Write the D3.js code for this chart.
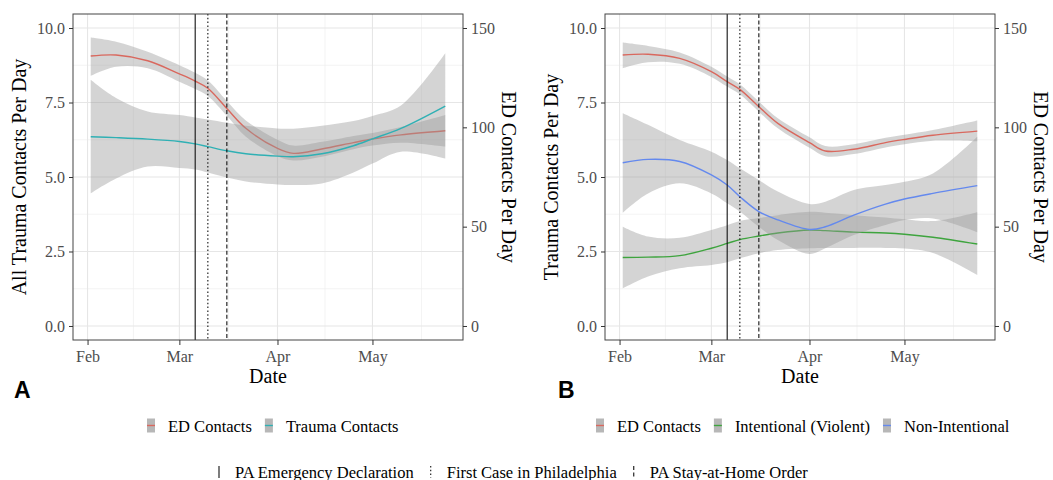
<!DOCTYPE html>
<html>
<head>
<meta charset="utf-8">
<script src="https://cdn.jsdelivr.net/npm/d3@7"></script>
<style>
  body { margin: 0; background: #fff; }
  text { font-family: "Liberation Serif", "Times New Roman", serif; }
  text.panel-letter { font-family: "Liberation Sans", Arial, sans-serif; font-weight: bold; }
</style>
</head>
<body>
<svg id="chart" width="1053" height="480"></svg>
<script>
// ── Data ───────────────────────────────────────
// shared sample dates for the smoothed curves
const sampleDates = ["2020-02-02","2020-02-10","2020-02-20","2020-03-01","2020-03-06","2020-03-10","2020-03-16",
                     "2020-03-22","2020-04-01","2020-04-06","2020-04-15","2020-04-25","2020-05-01","2020-05-10","2020-05-24"];

// Panel A — ED contacts on the right axis (contacts/day), trauma on the left
const edA       = [135.9,136.4,133.5,126.9,123.3,119.7,109.5, 99.5, 89.4, 86.9, 89.1, 92.3, 94.1, 96.2, 98.3];
const edALo     = [125.9,130.5,129.8,123.0,119.3,115.8,105.8, 95.3, 85.5, 83.3, 85.2, 89.0, 90.8, 92.3, 90.3];
const edAHi     = [145.2,143.1,138.0,131.3,127.5,123.6,113.3,103.5, 93.8, 90.8, 92.7, 95.7, 97.2,100.2,106.2];
const traumaA   = [6.35, 6.32, 6.27, 6.19, 6.11, 6.02, 5.88, 5.78, 5.70, 5.68, 5.78, 6.05, 6.28, 6.63, 7.38];
const traumaALo = [4.45, 4.95, 5.35, 5.30, 5.25, 5.15, 4.98, 4.85, 4.75, 4.73, 4.78, 5.15, 5.45, 5.85, 5.62];
const traumaAHi = [8.26, 7.65, 7.20, 7.08, 7.00, 6.93, 6.82, 6.72, 6.63, 6.62, 6.72, 6.88, 7.05, 7.40, 9.15];

// Panel B
const edB        = [136.4,136.8,134.7,128.0,123.0,119.1,110.4,102.0, 92.3, 88.1, 89.0, 92.3, 93.9, 96.0, 98.1];
const edBLo      = [129.8,132.8,132.0,125.4,120.5,116.6,107.9, 99.5, 89.7, 85.5, 86.6, 89.9, 91.5, 93.3, 93.0];
const edBHi      = [142.7,141.0,137.7,130.5,125.6,121.7,113.0,104.6, 95.0, 90.6, 91.5, 94.7, 96.3, 98.7,103.5];
const violentB   = [2.30, 2.31, 2.36, 2.61, 2.77, 2.90, 3.02, 3.12, 3.22, 3.20, 3.15, 3.12, 3.08, 2.98, 2.75];
const violentBLo = [1.26, 1.66, 1.94, 2.05, 2.14, 2.27, 2.44, 2.55, 2.61, 2.62, 2.62, 2.62, 2.60, 2.45, 1.71];
const violentBHi = [3.33, 3.00, 2.96, 3.22, 3.38, 3.52, 3.62, 3.72, 3.83, 3.80, 3.72, 3.64, 3.58, 3.52, 3.82];
const nonIntB    = [5.48, 5.59, 5.52, 5.07, 4.73, 4.34, 3.84, 3.56, 3.24, 3.33, 3.72, 4.09, 4.26, 4.45, 4.71];
const nonIntBLo  = [3.80, 4.45, 4.79, 4.45, 4.12, 3.84, 3.33, 2.89, 2.42, 2.61, 3.05, 3.39, 3.56, 3.61, 3.15];
const nonIntBHi  = [7.14, 6.75, 6.24, 5.85, 5.57, 5.29, 4.90, 4.51, 4.09, 4.17, 4.56, 4.73, 4.84, 5.12, 6.35];

// event markers
const eventDates = ["2020-03-06", "2020-03-10", "2020-03-16"];
const eventNames = ["PA Emergency Declaration", "First Case in Philadelphia", "PA Stay-at-Home Order"];
const eventDash  = [null, "1.5,2.3", "4,2.4"];

// axes
const leftTicks   = [0, 2.5, 5, 7.5, 10];
const leftMinor   = [1.25, 3.75, 6.25, 8.75];
const rightTicks  = [0, 50, 100, 150];
const monthTicks  = ["2020-02-01", "2020-03-01", "2020-04-01", "2020-05-01"];
const monthNext   = "2020-06-01";   // only used for the last minor gridline
const edRatio     = 15;             // sec.axis: ED = trauma * 15

// ── Layout ─────────────────────────────────────
const svg = d3.select("#chart");
const TOP = 14, BOTTOM = 340;
const parse = d3.utcParse("%Y-%m-%d");
const dts = sampleDates.map(parse);

const COL = { red: "#d9685e", teal: "#2fb0b4", green: "#3ea43e", blue: "#6489ee" };

const panels = [
  { left: 73, right: 463, letter: "A", letterX: 14, legendX: 147,
    yTitle: "All Trauma Contacts Per Day",
    series: [
      { name: "ED Contacts",     vals: edA,     lo: edALo,     hi: edAHi,     color: COL.red,  ed: true },
      { name: "Trauma Contacts", vals: traumaA, lo: traumaALo, hi: traumaAHi, color: COL.teal }
    ] },
  { left: 605, right: 995, letter: "B", letterX: 558, legendX: 596,
    yTitle: "Trauma Contacts Per Day",
    series: [
      { name: "ED Contacts",           vals: edB,      lo: edBLo,      hi: edBHi,      color: COL.red, ed: true },
      { name: "Intentional (Violent)", vals: violentB, lo: violentBLo, hi: violentBHi, color: COL.green },
      { name: "Non-Intentional",       vals: nonIntB,  lo: nonIntBLo,  hi: nonIntBHi,  color: COL.blue }
    ] }
];

function drawPanel(p) {
  const g = svg.append("g");
  const t0 = dts[0], t1 = dts[dts.length - 1];
  const pad = (t1 - t0) * 0.05;
  const x = d3.scaleUtc().domain([new Date(+t0 - pad), new Date(+t1 + pad)]).range([p.left, p.right]);
  const y = d3.scaleLinear().domain([-0.47, 10.47]).range([BOTTOM, TOP]);
  const yR = d3.scaleLinear().domain([-0.47 * edRatio, 10.47 * edRatio]).range([BOTTOM, TOP]);

  // grid
  const months = monthTicks.concat([monthNext]).map(parse);
  const minorX = d3.pairs(months).map(([a, b]) => new Date((+a + +b) / 2));
  const grid = g.append("g");
  grid.selectAll(".ymin").data(leftMinor).join("line")
    .attr("x1", p.left).attr("x2", p.right).attr("y1", d => y(d)).attr("y2", d => y(d))
    .attr("stroke", "#efefef").attr("stroke-width", 0.7);
  grid.selectAll(".xmin").data(minorX.filter(d => x(d) < p.right)).join("line")
    .attr("x1", d => x(d)).attr("x2", d => x(d)).attr("y1", TOP).attr("y2", BOTTOM)
    .attr("stroke", "#efefef").attr("stroke-width", 0.7);
  grid.selectAll(".ymaj").data(leftTicks).join("line")
    .attr("x1", p.left).attr("x2", p.right).attr("y1", d => y(d)).attr("y2", d => y(d))
    .attr("stroke", "#e6e6e6").attr("stroke-width", 1.1);
  grid.selectAll(".xmaj").data(monthTicks.map(parse)).join("line")
    .attr("x1", d => x(d)).attr("x2", d => x(d)).attr("y1", TOP).attr("y2", BOTTOM)
    .attr("stroke", "#e6e6e6").attr("stroke-width", 1.1);

  // smooths: ribbon then line, series in legend order
  p.series.forEach(s => {
    const sc = s.ed ? yR : y;
    const rows = dts.map((d, i) => ({ d, v: s.vals[i], lo: s.lo[i], hi: s.hi[i] }));
    g.append("path").datum(rows)
      .attr("d", d3.area().curve(d3.curveCatmullRom.alpha(0.5))
        .x(r => x(r.d)).y0(r => sc(r.lo)).y1(r => sc(r.hi)))
      .attr("fill", "#999999").attr("fill-opacity", 0.42);
    g.append("path").datum(rows)
      .attr("d", d3.line().curve(d3.curveCatmullRom.alpha(0.5)).x(r => x(r.d)).y(r => sc(r.v)))
      .attr("fill", "none").attr("stroke", s.color).attr("stroke-width", 1.4);
  });

  // event lines
  eventDates.forEach((e, i) => {
    const xe = x(parse(e));
    g.append("line").attr("x1", xe).attr("x2", xe).attr("y1", TOP).attr("y2", BOTTOM)
      .attr("stroke", "#111").attr("stroke-width", 1.1)
      .attr("stroke-dasharray", eventDash[i]);
  });

  // panel border
  g.append("rect").attr("x", p.left).attr("y", TOP)
    .attr("width", p.right - p.left).attr("height", BOTTOM - TOP)
    .attr("fill", "none").attr("stroke", "#444").attr("stroke-width", 1);

  // axes
  const styleAxis = sel => {
    sel.select(".domain").remove();
    sel.selectAll("line").attr("stroke", "#333");
    sel.selectAll("text").attr("fill", "#4d4d4d").attr("font-size", 16);
  };
  g.append("g").attr("transform", `translate(${p.left},0)`)
    .call(d3.axisLeft(y).tickValues(leftTicks).tickFormat(d3.format(".1f")).tickSize(4).tickPadding(4))
    .call(styleAxis);
  g.append("g").attr("transform", `translate(${p.right},0)`)
    .call(d3.axisRight(yR).tickValues(rightTicks).tickSize(4).tickPadding(4))
    .call(styleAxis);
  g.append("g").attr("transform", `translate(0,${BOTTOM})`)
    .call(d3.axisBottom(x).tickValues(monthTicks.map(parse)).tickFormat(d3.utcFormat("%b")).tickSize(5).tickPadding(5.5))
    .call(styleAxis);

  // titles
  g.append("text").attr("x", (p.left + p.right) / 2).attr("y", 383)
    .attr("text-anchor", "middle").attr("font-size", 20).text("Date");
  g.append("text").attr("transform", `translate(${p.left - 47},${(TOP + BOTTOM) / 2}) rotate(-90)`)
    .attr("text-anchor", "middle").attr("font-size", 20).text(p.yTitle);
  g.append("text").attr("transform", `translate(${p.right + 39},${(TOP + BOTTOM) / 2}) rotate(90)`)
    .attr("text-anchor", "middle").attr("font-size", 20).text("ED Contacts Per Day");
  g.append("text").attr("class", "panel-letter").attr("x", p.letterX).attr("y", 398)
    .attr("font-size", 23).text(p.letter);

  // series legend
  let lx = p.legendX;
  p.series.forEach(s => {
    const k = svg.append("g").attr("transform", `translate(${lx},418.5)`);
    k.append("rect").attr("width", 8).attr("height", 14).attr("fill", "#b7b7b7");
    k.append("line").attr("x1", 0).attr("x2", 8).attr("y1", 7).attr("y2", 7)
      .attr("stroke", s.color).attr("stroke-width", 1.4);
    const t = svg.append("text").attr("x", lx + 21).attr("y", 432)
      .attr("font-size", 16.5).text(s.name);
    lx += 21 + t.node().getComputedTextLength() + 13;
  });
}

panels.forEach(drawPanel);

// event legend (bottom)
let ex = 219;
eventNames.forEach((name, i) => {
  svg.append("line").attr("x1", ex).attr("x2", ex).attr("y1", 466).attr("y2", 478)
    .attr("stroke", "#111").attr("stroke-width", 1.1).attr("stroke-dasharray", eventDash[i]);
  const t = svg.append("text").attr("x", ex + 16).attr("y", 477.5)
    .attr("font-size", 16.5).text(name);
  ex += 16 + t.node().getComputedTextLength() + 17;
});
</script>
</body>
</html>
